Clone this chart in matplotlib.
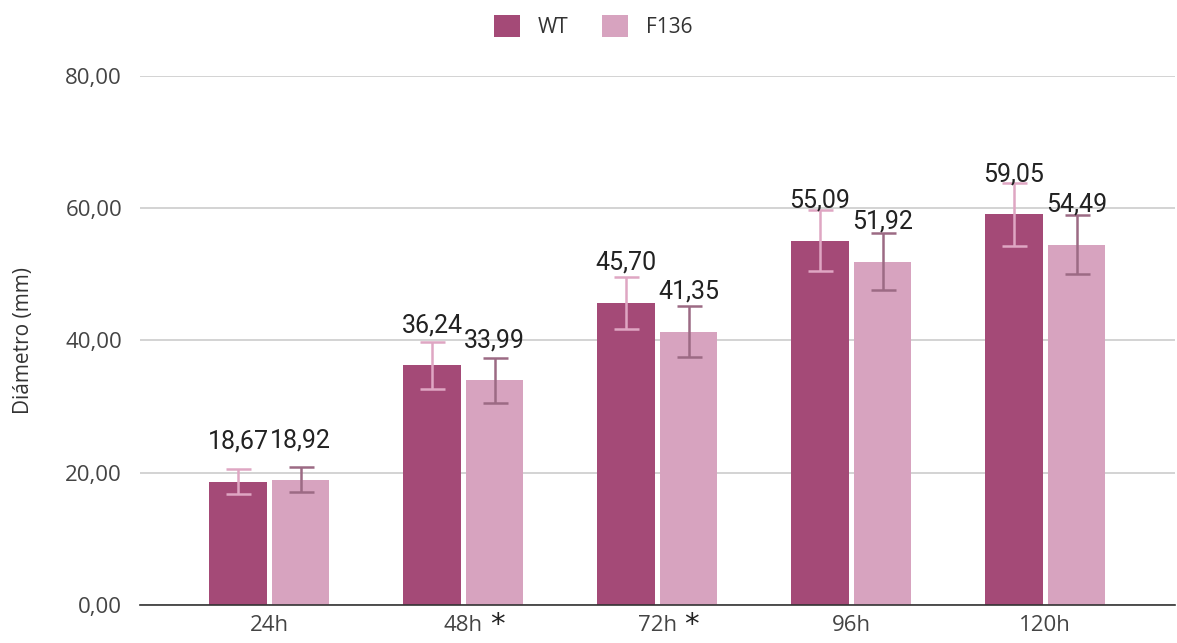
import matplotlib.pyplot as plt
import numpy as np
from matplotlib.transforms import blended_transform_factory

times = ["24h", "48h", "72h", "96h", "120h"]
starred = ["48h", "72h"]
wt = [18.67, 36.24, 45.70, 55.09, 59.05]
f136 = [18.92, 33.99, 41.35, 51.92, 54.49]
wt_err = [1.9, 3.6, 3.9, 4.6, 4.7]
f136_err = [1.9, 3.4, 3.9, 4.3, 4.5]

WT_COLOR = "#a44a77"
F136_COLOR = "#d7a3bf"
WT_ERR = "#dfa6c3"
F136_ERR = "#9c6a84"


def fmt(v):
    return f"{v:.2f}".replace(".", ",")


fig = plt.figure(figsize=(11.77, 6.43), dpi=100)
ax = fig.add_axes([0.119, 0.059, 0.879, 0.823])

x = np.arange(len(times))
width = 0.297
off = 0.161

ax.bar(x - off, wt, width, color=WT_COLOR, label="WT", zorder=2)
ax.bar(x + off, f136, width, color=F136_COLOR, label="F136", zorder=2)
ax.errorbar(x - off, wt, yerr=wt_err, fmt="none", ecolor=WT_ERR,
            elinewidth=1.8, capsize=9, capthick=1.8, zorder=3)
ax.errorbar(x + off, f136, yerr=f136_err, fmt="none", ecolor=F136_ERR,
            elinewidth=1.8, capsize=9, capthick=1.8, zorder=3)

for xs, vals in ((x - off, wt), (x + off, f136)):
    for xi, v in zip(xs, vals):
        ax.annotate(fmt(v), (xi, v), xytext=(0, 20), textcoords="offset points",
                    ha="center", va="bottom", fontsize=18, family="Roboto",
                    color="#222222", zorder=4)

ax.set_ylim(0, 80)
ax.set_xlim(-0.667, 4.667)
ax.set_yticks([0, 20, 40, 60, 80])
ax.set_yticklabels([fmt(t) for t in [0, 20, 40, 60, 80]])
ax.set_xticks(x)
ax.set_xticklabels(times)
ax.tick_params(axis="both", length=0, labelsize=16, labelcolor="#444444")
ax.tick_params(axis="y", pad=13)
ax.tick_params(axis="x", pad=7)
for lab in ax.get_xticklabels() + ax.get_yticklabels():
    lab.set_family("Open Sans")

ax.yaxis.grid(True, color="#cccccc", linewidth=1.2, zorder=0)
ax.set_axisbelow(True)
for side in ("top", "right", "left"):
    ax.spines[side].set_visible(False)
ax.spines["bottom"].set_color("#333333")
ax.spines["bottom"].set_linewidth(1.2)

# significance marks next to the time labels
trans = blended_transform_factory(ax.transData, ax.transAxes)
for t in starred:
    i = times.index(t)
    ax.text(i + 0.175, -0.038, "*", transform=trans, ha="center", va="center",
            fontsize=21, color="#222222", family="DejaVu Sans")

ax.set_ylabel("Diámetro (mm)", fontsize=15, family="Open Sans", color="#333333")
ax.yaxis.set_label_coords(-0.103, 0.5)

leg = fig.legend(loc="upper center", bbox_to_anchor=(0.504, 0.993), ncol=2,
                 frameon=False, handlelength=1.25, handleheight=1.25,
                 columnspacing=1.6, handletextpad=0.86, borderaxespad=0.1,
                 prop={"family": "Open Sans", "size": 15})
for txt in leg.get_texts():
    txt.set_color("#333333")

fig.savefig("out.png", dpi=100)
